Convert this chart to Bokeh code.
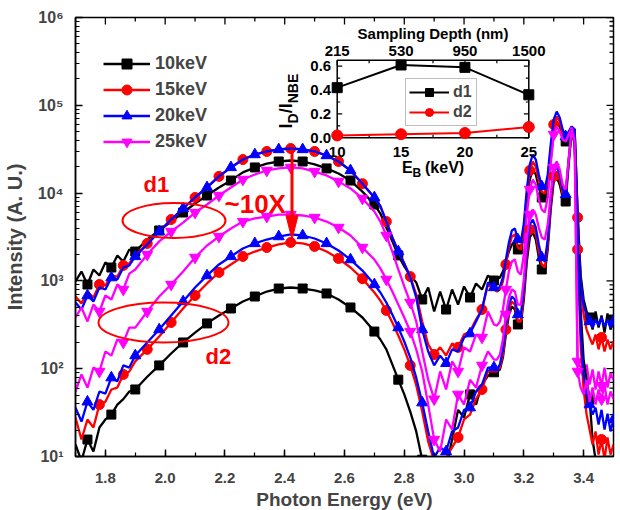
import math
import numpy as np
from bokeh.plotting import figure
from bokeh.models import (Range1d, SingleIntervalTicker, PrintfTickFormatter, CustomJSTickFormatter,
                          Legend, LegendItem, LinearScale)
from bokeh.core.properties import value
from bokeh.embed import file_html
from bokeh.resources import INLINE

# ---------------- data ----------------
ENERGY = [1.70, 1.72, 1.74, 1.76, 1.78, 1.80, 1.82, 1.84, 1.86, 1.88, 1.90,
          1.94, 1.98, 2.02, 2.06, 2.10, 2.14, 2.18, 2.22, 2.26, 2.30, 2.34, 2.38, 2.42, 2.46, 2.50,
          2.54, 2.58, 2.62, 2.66, 2.70,
          2.72, 2.74, 2.76, 2.78, 2.80, 2.82, 2.84, 2.86, 2.88, 2.90, 2.92, 2.94, 2.96, 2.98, 3.00,
          3.02, 3.04, 3.06, 3.08, 3.10,
          3.11, 3.12, 3.13, 3.14, 3.15, 3.16, 3.17, 3.18, 3.19, 3.20, 3.21, 3.22, 3.23, 3.24, 3.25,
          3.26, 3.27, 3.28, 3.29, 3.30, 3.31, 3.32, 3.33, 3.34, 3.35, 3.36, 3.37, 3.38, 3.39, 3.40,
          3.41, 3.42, 3.43, 3.44, 3.45, 3.46, 3.47, 3.48, 3.49, 3.50]

# d1 group (upper spectra)
K10_D1 = [984, 1280, 910, 1350, 1150, 1620, 1420, 1950, 1660, 2280, 2160,
          2960, 3750, 4740, 6010, 7620, 9390, 11600, 13900, 17200, 19600, 21700, 22900, 23500, 22900,
          21200, 19100, 16700, 13900, 10400, 7420,
          5850, 4060, 2820, 1950, 1460, 1150, 960, 614, 841, 448, 757, 472, 798, 538, 864, 647, 935,
          798, 1150, 1010,
          1040, 1090, 1280, 1660, 2160, 2600, 2740, 2280, 2160, 3380, 7420, 14300, 18600, 16300, 11600,
          8910, 8460, 11600, 24100, 50300, 65300, 57300, 44100, 38700, 46500, 55800, 53000, 5700, 1180,
          614, 448, 383, 279, 448, 294, 403, 258, 425, 279, 363]
K15_D1 = [664, 553, 757, 647, 910, 887, 1150, 1120, 1500, 1580, 1950,
          2670, 3650, 5000, 6680, 8910, 11600, 15500, 19600, 24100, 27500, 29800, 31400, 32200, 31400,
          29800, 26800, 22900, 18100, 12800, 8910,
          7110, 4740, 3120, 2160, 1580, 1120, 700, 345, 189, 145, 175, 141, 194, 175, 245, 265, 363,
          472, 910, 798,
          757, 798, 984, 1540, 2400, 3200, 3380, 2400, 2280, 3850, 9390, 18100, 22900, 20100, 13900,
          10400, 9890, 14300, 31400, 60400, 74500, 65300, 47700, 42000, 49000, 57300, 51600, 5270, 910,
          414, 279, 227, 189, 245, 166, 227, 157, 215, 166, 204]
K20_D1 = [568, 472, 682, 582, 841, 798, 1090, 1040, 1420, 1500, 1900,
          2600, 3650, 5000, 6680, 8910, 11600, 15500, 19600, 24100, 27500, 29800, 31400, 32200, 31400,
          29800, 26800, 22900, 18100, 12800, 8910,
          7110, 4740, 3120, 2160, 1580, 1090, 647, 279, 157, 109, 141, 115, 166, 157, 227, 251, 345,
          472, 960, 841,
          798, 864, 1090, 1750, 2740, 3750, 3950, 2960, 2740, 4500, 11000, 21200, 27500, 24100, 16300,
          11900, 11000, 16300, 35800, 68900, 84900, 72600, 53000, 44100, 50300, 57300, 53000, 5700, 1040,
          538, 403, 345, 294, 363, 310, 383, 302, 363, 294, 345]
K25_D1 = [383, 498, 345, 538, 448, 682, 614, 910, 798, 1210, 1350,
          2000, 2820, 3650, 4620, 6010, 7420, 9390, 11600, 14300, 16300, 18100, 19100, 19600, 19100,
          17600, 15900, 13600, 11300, 8690, 6170,
          4740, 3290, 2160, 1350, 864, 568, 345, 157, 75, 45, 93, 58, 121, 93, 175, 157, 245,
          227, 448, 319,
          310, 345, 472, 798, 1280, 1660, 1750, 1280, 1180, 2000, 5700, 11000, 14300, 12500, 8460,
          6500, 6010, 8910, 21200, 46500, 57300, 50300, 40800, 38700, 46500, 55800, 40800, 121, 103,
          79, 112, 66, 98, 58, 93, 64, 103, 61, 89, 75]

# d2 group (lower spectra)
K10_D2 = [13.7, 8.9, 15.6, 11.4, 21.4, 26.4, 30, 39, 45, 55, 58,
          81, 109, 149, 199, 258, 328, 404, 485, 582, 664, 757, 819, 841, 819,
          778, 719, 614, 498, 383, 265,
          215, 166, 112, 75, 51, 32.5, 19.3, 9.2, 7.1, 6.2, 7.1, 7.4, 15.6, 34, 27.8, 51, 39,
          66, 83, 91,
          93, 98, 134, 245, 414, 511, 472, 319, 319, 614, 1660, 3120, 3560, 2960, 1850,
          1350, 1250, 2280, 6500, 13600, 15100, 12500, 8910, 8020, 21200, 50300, 35800, 3850, 472,
          127, 75, 45, 15.6, 9.2, 7.1, 8.1, 6.2, 8.9, 7.1, 8.1]
K15_D2 = [27.8, 15.6, 26.4, 21.4, 39, 42, 58, 61, 86, 93, 121,
          166, 233, 336, 485, 682, 935, 1250, 1540, 1900, 2160, 2400, 2600, 2740, 2670,
          2470, 2160, 1800, 1420, 1060, 738,
          597, 460, 336, 239, 166, 109, 65, 32.5, 14.8, 8.9, 7.1, 9.7, 12.7, 16.5, 26.4, 30, 45,
          58, 93, 93,
          93, 103, 145, 279, 472, 582, 538, 345, 345, 700, 2000, 3850, 4270, 3470, 2160,
          1540, 1420, 2600, 7420, 15500, 17600, 14300, 9890, 9150, 22900, 51600, 38700, 2280, 189,
          58, 30, 20.3, 13.7, 19.3, 10.5, 15.6, 9.2, 16.5, 10.5, 13.7]
K20_D2 = [36, 25, 42, 34, 55, 52, 79, 72, 109, 103, 141,
          199, 279, 404, 582, 841, 1150, 1540, 1900, 2340, 2670, 2960, 3200, 3380, 3290,
          3040, 2670, 2220, 1750, 1310, 910,
          738, 568, 414, 294, 204, 134, 79, 41, 19.3, 9.7, 12.7, 11.4, 19.3, 21.4, 34, 36, 55,
          66, 103, 103,
          98, 112, 166, 319, 538, 664, 614, 414, 414, 798, 2280, 4390, 5000, 4060, 2600,
          1850, 1660, 2960, 8460, 17600, 20100, 16300, 11000, 9640, 24100, 53000, 40800, 2960, 279,
          86, 51, 39, 30, 36, 23.1, 34, 20.3, 30.8, 19.3, 26.4]
K25_D2 = [55, 86, 61, 103, 93, 157, 141, 215, 199, 294, 294,
          448, 664, 910, 1280, 1850, 2530, 3200, 3950, 4740, 5140, 5410, 5700, 5700, 5560,
          5270, 4740, 4060, 3290, 2400, 1750,
          1390, 1040, 757, 538, 383, 265, 166, 93, 39, 15.6, 11.4, 26.4, 20.3, 51, 39, 75, 61,
          109, 157, 127,
          127, 145, 215, 414, 647, 798, 757, 538, 538, 1040, 2960, 5700, 6500, 5700, 4060,
          3120, 2960, 4390, 9640, 19600, 22900, 18600, 12500, 11000, 24100, 53000, 38700, 93, 61,
          51, 75, 42, 61, 39, 58, 45, 66, 39, 55, 45]

# energies where symbols sit on the curves
MARK_E_A = [1.74, 1.82, 1.90, 1.98, 2.06, 2.14, 2.22, 2.30, 2.38, 2.46, 2.54, 2.62, 2.70,
            2.78, 2.86, 2.94, 3.02, 3.10, 3.18, 3.26, 3.34, 3.42, 3.50]
MARK_E_B = [1.78, 1.86, 1.94, 2.02, 2.10, 2.18, 2.26, 2.34, 2.42, 2.50, 2.58, 2.66, 2.74,
            2.82, 2.90, 2.98, 3.06, 3.14, 3.22, 3.30, 3.38, 3.46]

SERIES_LABELS = ["10keV", "15keV", "20keV", "25keV"]

# inset data
INSET_EB = [10, 15, 20, 25]
INSET_DEPTH = ["215", "530", "950", "1500"]
INSET_D1 = [0.42, 0.61, 0.59, 0.36]
INSET_D2 = [0.02, 0.03, 0.04, 0.09]
INSET_YTICKS = [0.0, 0.2, 0.4, 0.6]

# ---------------- layout / style ----------------
FONT = "Liberation Sans"
RED = "#ff0000"
X0, X1 = 1.7, 3.5
Y0, Y1 = 10.0, 1.0e6
BORDER_L, BORDER_T = 75, 17
FRAME_W, FRAME_H = 538, 439
FL, FT = 80, 18          # frame corner in the picture


def ex(px):
    return X0 + (px - FL) / FRAME_W * (X1 - X0)


def ey(py):
    l0, l1 = math.log10(Y0), math.log10(Y1)
    return 10 ** (l1 - (py - FT) / FRAME_H * (l1 - l0))


# inset frame (picture pixels)
IN_L, IN_R, IN_T, IN_B = 341.7, 533.3, 60.7, 138.3
IN_X0, IN_X1 = 10.0, 25.0
IN_Y0, IN_Y1 = 0.0, 0.65
kx = (IN_X1 - IN_X0) / (IN_R - IN_L)
ky = (IN_Y1 - IN_Y0) / (IN_B - IN_T)
ix_start = IN_X0 - (IN_L - FL) * kx
ix_end = IN_X1 + (FL + FRAME_W - IN_R) * kx
iy_start = IN_Y0 - (FT + FRAME_H - IN_B) * ky
iy_end = IN_Y1 + (IN_T - FT) * ky

p = figure(frame_width=FRAME_W, frame_height=FRAME_H,
           x_range=Range1d(X0, X1), y_range=Range1d(Y0, Y1), y_axis_type="log",
           output_backend="svg", toolbar_location=None,
           min_border_left=BORDER_L, min_border_top=BORDER_T, min_border_right=2, min_border_bottom=0)
p.extra_x_ranges = {"ix": Range1d(ix_start, ix_end)}
p.extra_y_ranges = {"iy": Range1d(iy_start, iy_end)}
p.extra_x_scales = {"ix": LinearScale()}
p.extra_y_scales = {"iy": LinearScale()}
p.grid.visible = False
p.outline_line_color = "black"
p.outline_line_width = 1.5

xb = p.below[0]
xb.ticker = SingleIntervalTicker(interval=0.2, num_minor_ticks=2)
xb.formatter = PrintfTickFormatter(format="%.1f")
yl = p.left[0]
yl.formatter = CustomJSTickFormatter(code=r"""
const sup = ["\u2070","\u00B9","\u00B2","\u00B3","\u2074","\u2075","\u2076","\u2077","\u2078","\u2079"];
const e = Math.round(Math.log10(tick));
return "10" + String(e).split("").map(c => sup[+c]).join("");
""")
for ax in (xb, yl):
    ax.major_tick_in = 7
    ax.major_tick_out = 0
    ax.minor_tick_in = 4
    ax.minor_tick_out = 0
    ax.axis_line_width = 1.5
    ax.major_tick_line_width = 1.5
    ax.minor_tick_line_width = 1.2
    ax.major_label_text_font = FONT
    ax.major_label_text_font_style = "bold"
    ax.major_label_text_font_size = "15px"
    ax.axis_label_text_font = FONT
    ax.axis_label_text_font_style = "bold"
yl.major_label_text_font_size = "16px"
xb.axis_label = "Photon Energy (eV)"
xb.axis_label_text_font_size = "19px"
xb.major_label_standoff = 16
xb.axis_label_standoff = 3
yl.axis_label = "Intensity (A. U.)"
yl.axis_label_text_font_size = "20px"
yl.major_label_standoff = 12
yl.axis_label_standoff = 9

# mirrored ticks on the top and right edges of the frame
ticks_top = []
for i in range(19):
    xv = X0 + 0.1 * i
    ln = 7 if i % 2 == 1 else 4
    ticks_top.append((xv, Y1, xv, ey(FT + ln)))
p.segment(x0=[t[0] for t in ticks_top], y0=[t[1] for t in ticks_top],
          x1=[t[2] for t in ticks_top], y1=[t[3] for t in ticks_top],
          line_color="black", line_width=1.3)
ticks_right = []
for n in range(1, 6):
    for k in range(1, 10):
        yv = k * 10 ** n
        ln = 7 if k == 1 else 4
        ticks_right.append((X1, yv, ex(FL + FRAME_W - ln), yv))
ticks_right.append((X1, Y1, ex(FL + FRAME_W - 7), Y1))
p.segment(x0=[t[0] for t in ticks_right], y0=[t[1] for t in ticks_right],
          x1=[t[2] for t in ticks_right], y1=[t[3] for t in ticks_right],
          line_color="black", line_width=1.3)

energy = np.array(ENERGY)
idx_a = [int(np.argmin(np.abs(energy - e))) for e in MARK_E_A]
idx_b = [int(np.argmin(np.abs(energy - e))) for e in MARK_E_B]

styles = [("black", "square", 9, idx_a),
          (RED, "circle", 10, idx_b),
          ("#0000ff", "triangle", 11, idx_a),
          ("#ff00ff", "inverted_triangle", 11, idx_b)]

legend_items = []
for group, is_d1 in (([K10_D1, K15_D1, K20_D1, K25_D1], True),
                     ([K10_D2, K15_D2, K20_D2, K25_D2], False)):
    for vals, (col, mk, sz, idx), lab in zip(group, styles, SERIES_LABELS):
        v = np.array(vals, dtype=float)
        ln = p.line(energy, v, line_color=col, line_width=2.3)
        sc = p.scatter(energy[idx], v[idx], marker=mk, size=sz, fill_color=col, line_color=col)
        if is_d1:
            legend_items.append(LegendItem(label=lab, renderers=[ln, sc]))

leg = Legend(items=legend_items, location=(28, 302), orientation="vertical",
             glyph_width=47, glyph_height=25, label_height=25, spacing=1, padding=1, margin=0,
             label_standoff=5, border_line_color=None, background_fill_alpha=0,
             label_text_font=FONT, label_text_font_style="bold", label_text_font_size="18px")
p.add_layout(leg)

# ---------------- annotations ----------------
p.ellipse(x=[ex(178.5)], y=[ey(221)], width=[103], height=[35], width_units="screen",
          height_units="screen", fill_color=None, line_color=RED, line_width=2)
p.ellipse(x=[ex(168)], y=[ey(323)], width=[130], height=[40], width_units="screen",
          height_units="screen", fill_color=None, line_color=RED, line_width=2)
p.segment(x0=[ex(296.5)], y0=[ey(150)], x1=[ex(296.5)], y1=[ey(220)], line_color=RED, line_width=3)
p.patch(x=[ex(290.5), ex(302.5), ex(296.5)], y=[ey(216), ey(216), ey(240)],
        fill_color=RED, line_color=RED)
ann = dict(text_color=RED, text_font=value(FONT), text_font_style="bold",
           text_align="left", text_baseline="middle")
p.text(x=[ex(148)], y=[ey(185)], text=["d1"], text_font_size="22px", **ann)
p.text(x=[ex(229)], y=[ey(204)], text=["~10X"], text_font_size="26px", **ann)
p.text(x=[ex(210)], y=[ey(357)], text=["d2"], text_font_size="22px", **ann)

# ---------------- inset ----------------
R = dict(x_range_name="ix", y_range_name="iy")
p.quad(left=[IN_X0], right=[IN_X1], bottom=[IN_Y0], top=[IN_Y1], fill_color="white",
       line_color="black", line_width=1.5, **R)
tx_major, tx_minor = 5 * kx, 3 * kx
ty_major, ty_minor = 5 * ky, 3 * ky
xt_minor = [12.5, 17.5, 22.5]
yt_minor = [0.1, 0.3, 0.5]
segs = []
for x in INSET_EB:
    segs += [(x, IN_Y0, x, IN_Y0 + ty_major), (x, IN_Y1, x, IN_Y1 - ty_major)]
for x in xt_minor:
    segs += [(x, IN_Y0, x, IN_Y0 + ty_minor), (x, IN_Y1, x, IN_Y1 - ty_minor)]
for y in INSET_YTICKS:
    segs += [(IN_X0, y, IN_X0 + tx_major, y), (IN_X1, y, IN_X1 - tx_major, y)]
for y in yt_minor:
    segs += [(IN_X0, y, IN_X0 + tx_minor, y), (IN_X1, y, IN_X1 - tx_minor, y)]
s = np.array(segs)
p.segment(x0=s[:, 0], y0=s[:, 1], x1=s[:, 2], y1=s[:, 3], line_color="black", line_width=1.2, **R)

il1 = p.line(INSET_EB, INSET_D1, line_color="black", line_width=2, **R)
is1 = p.scatter(INSET_EB, INSET_D1, marker="square", size=10, color="black", **R)
il2 = p.line(INSET_EB, INSET_D2, line_color=RED, line_width=2, **R)
is2 = p.scatter(INSET_EB, INSET_D2, marker="circle", size=11, color=RED, **R)

tk = dict(text_color="black", text_font=value(FONT), text_font_style="bold", text_font_size="15px")
p.text(x=[IN_X0] * 4, y=INSET_YTICKS, text=["%.1f" % v for v in INSET_YTICKS], x_offset=-6,
       text_align="right", text_baseline="middle", **tk, **R)
p.text(x=INSET_EB, y=[IN_Y0] * 4, text=[str(v) for v in INSET_EB], y_offset=14,
       text_align="center", text_baseline="middle", **tk, **R)
p.text(x=INSET_EB, y=[IN_Y1] * 4, text=INSET_DEPTH, y_offset=-9,
       text_align="center", text_baseline="middle", **tk, **R)
xm = (IN_X0 + IN_X1) / 2
p.text(x=[xm], y=[IN_Y1], text=["Sampling Depth (nm)"], y_offset=-27,
       text_align="center", text_baseline="middle", **tk, **R)
sub = dict(text_align="left", text_baseline="middle", text_color="black",
           text_font=value(FONT), text_font_style="bold")
p.text(x=[xm], y=[IN_Y0], text=["E"], x_offset=-31, y_offset=30, text_font_size="16px", **sub, **R)
p.text(x=[xm], y=[IN_Y0], text=["B"], x_offset=-20.5, y_offset=35, text_font_size="12px", **sub, **R)
p.text(x=[xm], y=[IN_Y0], text=["(keV)"], x_offset=-8, y_offset=30, text_font_size="16px", **sub, **R)
rot = dict(angle=math.pi / 2, text_align="left", text_baseline="middle", text_color="black",
           text_font=value(FONT), text_font_style="bold")
p.text(x=[IN_X0], y=[IN_Y0], text=["I"], x_offset=-51, y_offset=129 - IN_B,
       text_font_size="18px", **rot, **R)
p.text(x=[IN_X0], y=[IN_Y0], text=["D"], x_offset=-44, y_offset=124 - IN_B,
       text_font_size="14px", **rot, **R)
p.text(x=[IN_X0], y=[IN_Y0], text=["/I"], x_offset=-51, y_offset=113.8 - IN_B,
       text_font_size="18px", **rot, **R)
p.text(x=[IN_X0], y=[IN_Y0], text=["NBE"], x_offset=-44, y_offset=103.8 - IN_B,
       text_font_size="14px", **rot, **R)

ileg = Legend(items=[LegendItem(label="d1", renderers=[il1, is1]),
                     LegendItem(label="d2", renderers=[il2, is2])],
              location=(410 - FL, FT + FRAME_H - 127), orientation="vertical",
              glyph_width=40, glyph_height=20, label_height=20, spacing=0, padding=3, margin=0,
              label_standoff=4, border_line_color="#808080", border_line_width=1,
              background_fill_color="white", background_fill_alpha=1,
              label_text_font=FONT, label_text_font_style="bold", label_text_font_size="16px")
p.add_layout(ileg)

open("out.html", "w").write(file_html(p, INLINE))
